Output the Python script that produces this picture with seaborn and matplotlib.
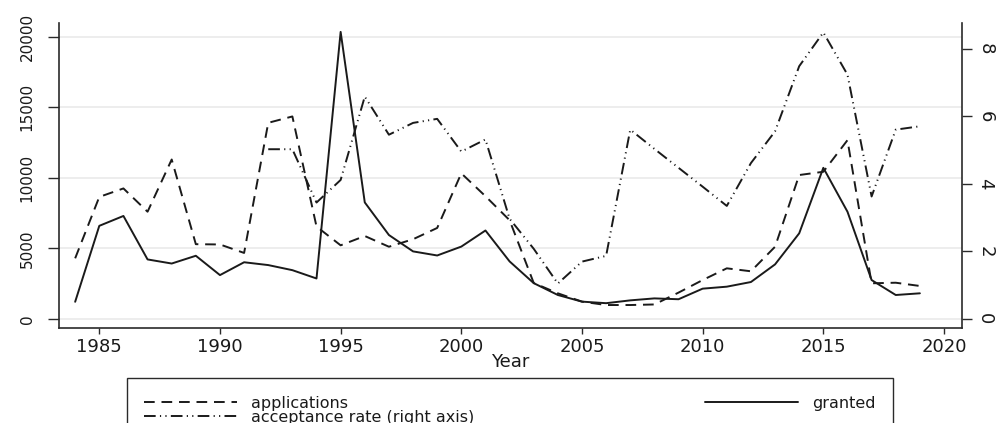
import matplotlib
matplotlib.use("Agg")
import matplotlib.pyplot as plt
import seaborn as sns

# Yearly patent figures
years = list(range(1984, 2020))
applications = [4300, 8650, 9250, 7600, 11300, 5300, 5280, 4680, 13900, 14350,
                6550, 5220, 5880, 5120, 5650, 6450, 10320, 8700, 7000, 2550,
                1820, 1230, 990, 990, 1030, 1870, 2760, 3590, 3380, 5120,
                10200, 10430, 12670, 2530, 2570, 2340]
granted = [1220, 6600, 7300, 4220, 3930, 4480, 3110, 4020, 3820, 3460,
           2870, 20340, 8260, 5950, 4790, 4500, 5130, 6270, 4080, 2540,
           1700, 1230, 1120, 1320, 1460, 1400, 2150, 2290, 2620, 3870,
           6070, 10710, 7600, 2760, 1700, 1820]

rate_years = list(range(1992, 2020))
acceptance_rate = [5.03, 5.03, 3.45, 4.12, 6.59, 5.46, 5.81, 5.93, 4.96, 5.32,
                   2.97, 2.08, 1.05, 1.70, 1.87, 5.61, 5.04, 4.48, 3.92, 3.35,
                   4.62, 5.56, 7.49, 8.49, 7.24, 3.63, 5.61, 5.71]

left_ticks = [0, 5000, 10000, 15000, 20000]
right_ticks = [0, 2, 4, 6, 8]
year_ticks = [1985, 1990, 1995, 2000, 2005, 2010, 2015, 2020]

sns.set_theme(style="white")
plt.rcParams["font.family"] = ["DejaVu Sans"]
ink = "#1a1a1a"

W, H = 996, 423
fig = plt.figure(figsize=(W / 100, H / 100), dpi=100)
x0, x1, y_top, y_bot = 58.7, 961.7, 22.7, 328.3
ax = fig.add_axes([x0 / W, 1 - y_bot / H, (x1 - x0) / W, (y_bot - y_top) / H])
ax.set_facecolor("white")
ax2 = ax.twinx()

lw = 1.4
sns.lineplot(x=years, y=applications, ax=ax, color=ink, lw=lw)
line_app = ax.lines[-1]
line_app.set_dashes([5.5, 3.5])
sns.lineplot(x=years, y=granted, ax=ax, color=ink, lw=lw)
line_gr = ax.lines[-1]
sns.lineplot(x=rate_years, y=acceptance_rate, ax=ax2, color=ink, lw=lw)
line_rate = ax2.lines[-1]
line_rate.set_dashes([6, 2.2, 0.6, 2.2, 0.6, 2.2])

ax.set_xlim(1983.318, 2020.733)
ax.set_ylim(-659, 20992)
ax2.set_ylim(-0.276, 8.779)

ax.set_xticks(year_ticks)
ax.set_xticklabels([str(y) for y in year_ticks])
ax.set_yticks(left_ticks)
ax.set_yticklabels([str(v) for v in left_ticks])
ax2.set_yticks(right_ticks)
ax2.set_yticklabels([str(v) for v in right_ticks])

ax.yaxis.grid(True, color="#e8e8e8", lw=1.1)
ax.xaxis.grid(False)
ax2.grid(False)
ax.set_axisbelow(True)

for s in ["top", "right"]:
    ax.spines[s].set_visible(False)
for s in ["top", "left", "bottom"]:
    ax2.spines[s].set_visible(False)
for sp in [ax.spines["left"], ax.spines["bottom"], ax2.spines["right"]]:
    sp.set_color("#2a2a2a")
    sp.set_linewidth(1.2)

ax.tick_params(axis="x", bottom=True, length=4.5, width=1, color="#2a2a2a",
               labelsize=13, labelcolor=ink, pad=2.5)
ax.tick_params(axis="y", left=True, length=8.2, width=1, color="#2a2a2a",
               labelsize=11, labelcolor=ink, pad=9)
ax2.tick_params(axis="y", right=True, length=7.5, width=1, color="#2a2a2a",
                labelsize=13, labelcolor=ink, pad=3)
for lbl in ax.get_yticklabels():
    lbl.set_rotation(90)
    lbl.set_va("center")
for lbl in ax2.get_yticklabels():
    lbl.set_rotation(270)
    lbl.set_va("center")

ax.set_xlabel("Year", fontsize=13, color=ink, labelpad=-2)
ax.set_ylabel("")
ax2.set_ylabel("")

# Two-column legend box under the axis; its lower edge runs past the canvas
leg_left, leg_right, leg_top = 127, 893, 378.3
fig.legend([line_app, line_rate, line_gr],
           ["applications", "acceptance rate (right axis)", "granted"],
           ncol=2, mode="expand", loc="upper left",
           bbox_to_anchor=(leg_left / W, 1 - leg_top / H - 0.3,
                           (leg_right - leg_left) / W, 0.3),
           bbox_transform=fig.transFigure,
           fontsize=11.5, frameon=True, fancybox=False, shadow=False,
           edgecolor="#2a2a2a", framealpha=1, borderpad=1.08,
           labelspacing=-0.05, handlelength=5.8, handletextpad=0.9,
           borderaxespad=0)
leg = fig.legends[-1]
leg.get_frame().set_linewidth(1.0)
for t in leg.get_texts():
    t.set_color(ink)

fig.savefig("out.png", dpi=100, facecolor="white")
